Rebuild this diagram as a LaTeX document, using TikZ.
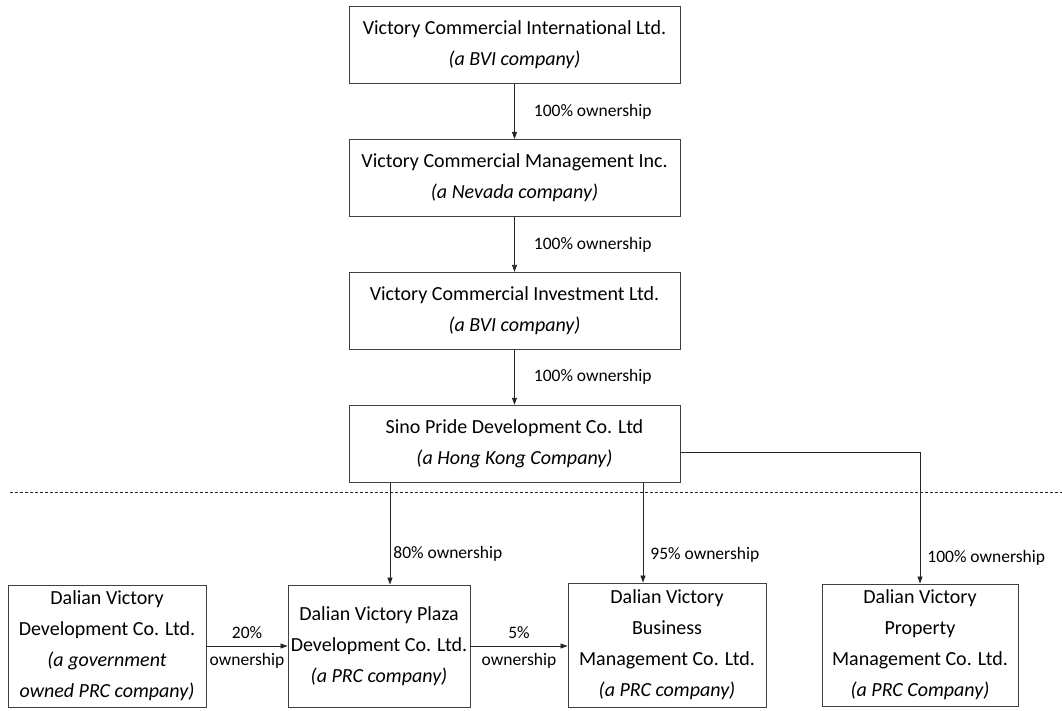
\documentclass[tikz,border=0pt]{standalone}
\usepackage{fontspec}
\setmainfont{Carlito}[Ligatures=NoCommon]
\usetikzlibrary{arrows.meta,positioning}
\tikzset{
    company/.style={
        rectangle,
        draw=black!75,
        line width=0.9pt,
        fill=white,
        align=center,
        inner sep=2pt,
        font=\fontsize{20}{31}\selectfont,
    },
    chain/.style={
        company,
        minimum width=331pt,
        minimum height=77pt,
    },
    own/.style={
        draw=black!85,
        line width=0.8pt,
        -{Triangle[length=7pt,width=5pt]},
    },
    pct/.style={
        font=\fontsize{17.5}{20}\selectfont,
        inner sep=0pt,
    },
    cut/.style={
        draw=black!85,
        line width=0.8pt,
        dash pattern=on 3pt off 2pt,
    },
    node distance=55pt,
}
\begin{document}
\begin{tikzpicture}[x=1pt,y=-1pt]
    \useasboundingbox (0,0) rectangle (1062,710);
    % holding chain
    \node [chain] (VCI) at (514.5,45) {Victory Commercial International Ltd.\\\textit{(a BVI company)}};
    \node [chain, below=of VCI] (VCM) {Victory Commercial Management Inc.\\\textit{(a Nevada company)}};
    \node [chain, below=of VCM] (VCInv) {Victory Commercial Investment Ltd.\\\textit{(a BVI company)}};
    \node [chain, below=of VCInv] (SPD) {Sino Pride Development Co. Ltd\\\textit{(a Hong Kong Company)}};
    % PRC companies
    \node [company, minimum width=198pt, minimum height=122pt] (DVD) at (107,646) {Dalian Victory\\Development Co. Ltd.\\\textit{(a government}\\\textit{owned PRC company)}};
    \node [company, minimum width=182pt, minimum height=122pt] (DVP) at (379,646) {Dalian Victory Plaza\\Development Co. Ltd.\\\textit{(a PRC company)}};
    \node [company, minimum width=198pt, minimum height=124pt] (DVB) at (667,645) {Dalian Victory\\Business\\Management Co. Ltd.\\\textit{(a PRC company)}};
    \node [company, minimum width=196pt, minimum height=122pt] (DVPM) at (920,645) {Dalian Victory\\Property\\Management Co. Ltd.\\\textit{(a PRC Company)}};
    % border line
    \coordinate (cutL) at (10,492);
    \coordinate (cutR) at (1062,492);
    \draw [cut] (cutL) -- (cutR);
    % ownership
    \draw [own] (VCI) -- node [pct, right, xshift=19pt] {100\% ownership} (VCM);
    \draw [own] (VCM) -- node [pct, right, xshift=19pt] {100\% ownership} (VCInv);
    \draw [own] (VCInv) -- node [pct, right, xshift=19pt] {100\% ownership} (SPD);
    \draw [own] ([xshift=-124.5pt]SPD.south) -- node [pct, right, pos=0.7, xshift=3pt] {80\% ownership} ([xshift=11pt]DVP.north);
    \draw [own] ([xshift=128.5pt]SPD.south) -- node [pct, right, pos=0.72, xshift=7pt] {95\% ownership} ([xshift=-24pt]DVB.north);
    \draw [own] ([yshift=-9pt]SPD.east) -| node [pct, right, pos=0.9, xshift=7pt] {100\% ownership} (DVPM.north);
    \draw [own] (DVD) -- node [pct, above=7pt] {20\%} node [pct, below=7pt] {ownership} (DVP);
    \draw [own] (DVP.east) -- node [pct, above=7pt] {5\%} node [pct, below=7pt] {ownership} (DVP.east -| DVB.west);
\end{tikzpicture}
\end{document}
